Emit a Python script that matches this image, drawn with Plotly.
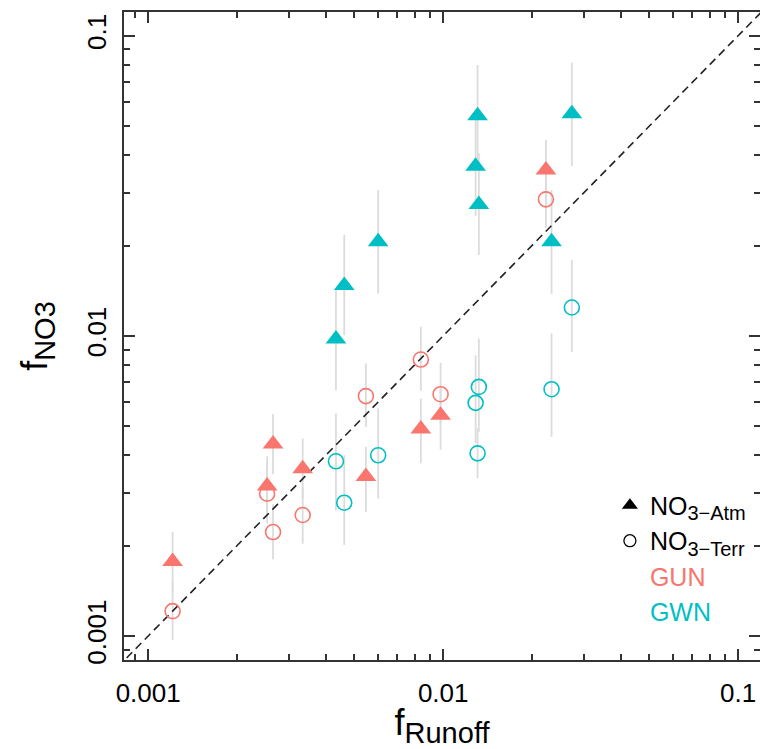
import plotly.graph_objects as go

GUN_COLOR = "#F8766D"
GWN_COLOR = "#00BFC4"
BAR_COLOR = "#DCDCDC"

# ---- data ----
gun_runoff = [0.00121, 0.00253, 0.00265, 0.00334, 0.00547, 0.0084, 0.0098, 0.0223]
gun_atm = [0.00177, 0.00316, 0.00436, 0.00361, 0.00340, 0.00489, 0.00544, 0.0357]
gun_atm_lo = [0.00140, 0.00251, 0.00346, 0.00287, 0.00259, 0.00376, 0.00418, 0.0283]
gun_atm_hi = [0.00222, 0.00397, 0.00548, 0.00455, 0.00427, 0.00618, 0.00685, 0.0449]
gun_terr = [0.00121, 0.00298, 0.00222, 0.00253, 0.00630, 0.00834, 0.00639, 0.0285]
gun_terr_lo = [0.00097, 0.00237, 0.00180, 0.00203, 0.00497, 0.00656, 0.00504, 0.0229]
gun_terr_hi = [0.00151, 0.00376, 0.00275, 0.00313, 0.00809, 0.01072, 0.00813, 0.0357]

gwn_runoff = [0.00433, 0.00462, 0.00602, 0.01308, 0.01288, 0.01321, 0.0233, 0.0273]
gwn_atm = [0.00977, 0.01471, 0.02057, 0.0541, 0.0367, 0.0274, 0.0206, 0.0550]
gwn_atm_lo = [0.00659, 0.01005, 0.01384, 0.0368, 0.0251, 0.0186, 0.0138, 0.0368]
gwn_atm_hi = [0.0142, 0.0217, 0.0306, 0.0799, 0.0540, 0.0406, 0.0306, 0.0813]
gwn_terr = [0.00382, 0.00278, 0.00400, 0.00406, 0.00598, 0.00676, 0.00664, 0.01243]
gwn_terr_lo = [0.00262, 0.00201, 0.00287, 0.00336, 0.00438, 0.00479, 0.00461, 0.00884]
gwn_terr_hi = [0.00551, 0.00400, 0.00573, 0.00492, 0.00862, 0.00980, 0.01019, 0.01788]

one_to_one = [0.0001, 1.0]

major_ticks = [0.001, 0.01, 0.1]
major_labels = ["0.001", "0.01", "0.1"]
minor_ticks = [k * 10.0 ** e for e in range(-4, 0) for k in range(2, 10)]

FONT = "Liberation Sans, Arial, sans-serif"

fig = go.Figure()

series = [
    (gun_runoff, gun_atm, gun_atm_lo, gun_atm_hi, GUN_COLOR, "triangle-up"),
    (gun_runoff, gun_terr, gun_terr_lo, gun_terr_hi, GUN_COLOR, "circle-open"),
    (gwn_runoff, gwn_atm, gwn_atm_lo, gwn_atm_hi, GWN_COLOR, "triangle-up"),
    (gwn_runoff, gwn_terr, gwn_terr_lo, gwn_terr_hi, GWN_COLOR, "circle-open"),
]

# error bars first (behind all markers)
for xs, ys, lo, hi, col, sym in series:
    fig.add_trace(go.Scatter(
        x=xs, y=ys, mode="markers",
        marker=dict(size=1, opacity=0),
        error_y=dict(type="data", symmetric=False,
                     array=[h - v for h, v in zip(hi, ys)],
                     arrayminus=[v - l for v, l in zip(ys, lo)],
                     color=BAR_COLOR, thickness=1.8, width=0),
        showlegend=False, hoverinfo="skip"))

# 1:1 line
fig.add_trace(go.Scatter(x=one_to_one, y=one_to_one, mode="lines",
                         line=dict(color="#222222", width=1.6, dash="8px,5px"),
                         showlegend=False, hoverinfo="skip"))

for xs, ys, lo, hi, col, sym in series:
    if sym == "triangle-up":
        mk = dict(symbol=sym, size=18, color=col, line=dict(width=0))
    else:
        mk = dict(symbol=sym, size=15, color=col, line=dict(width=1.6, color=col))
    fig.add_trace(go.Scatter(x=xs, y=ys, mode="markers", marker=mk, showlegend=False))

# legend entries
SUBL = "<sub><span style='font-size:20px'>%s</span></sub>"
fig.add_trace(go.Scatter(x=[None], y=[None], mode="markers",
                         name="NO" + SUBL % "3\u2212Atm",
                         marker=dict(symbol="triangle-up", size=14, color="black"),
                         legendgroup="a"))
fig.add_trace(go.Scatter(x=[None], y=[None], mode="markers",
                         name="NO" + SUBL % "3\u2212Terr",
                         marker=dict(symbol="circle-open", size=12, color="black", line=dict(width=1.3)),
                         legendgroup="a"))
fig.add_trace(go.Scatter(x=[None], y=[None], mode="markers",
                         name='<span style="color:%s">GUN</span>' % GUN_COLOR,
                         marker=dict(size=0.1, color="rgba(0,0,0,0)", line=dict(width=0)),
                         legendgroup="b"))
fig.add_trace(go.Scatter(x=[None], y=[None], mode="markers",
                         name='<span style="color:%s">GWN</span>' % GWN_COLOR,
                         marker=dict(size=0.1, color="rgba(0,0,0,0)", line=dict(width=0)),
                         legendgroup="b"))

axis_common = dict(
    type="log", showgrid=False, zeroline=False,
    showline=True, linecolor="#333333", linewidth=2, mirror="ticks",
    ticks="inside", ticklen=11, tickwidth=1.5, tickcolor="#333333",
    tickvals=major_ticks, ticktext=major_labels,
    tickfont=dict(size=26, color="black", family=FONT),
    minor=dict(tickvals=minor_ticks, ticks="inside", ticklen=6, tickwidth=1.5, tickcolor="#333333"),
    automargin=False,
)

SUBT = "<sub><span style='font-size:29px'>%s</span></sub>"

fig.update_layout(
    width=760, height=749,
    margin=dict(l=124, r=0, t=12, b=89),
    paper_bgcolor="white", plot_bgcolor="white",
    font=dict(family=FONT, color="black"),
    xaxis=dict(range=[-3.082, -0.926], ticklabelstandoff=9,
               title=dict(text="f" + SUBT % "Runoff", font=dict(size=36), standoff=4),
               **axis_common),
    yaxis=dict(range=[-3.08, -0.921], tickangle=-90, ticklabelstandoff=6,
               title=dict(text="f" + SUBT % "NO3", font=dict(size=36), standoff=23),
               **axis_common),
    legend=dict(x=0.764, y=0.274, xanchor="left", yanchor="top",
                font=dict(size=25, color="black", family=FONT),
                bgcolor="rgba(0,0,0,0)", tracegroupgap=0, traceorder="grouped",
                itemwidth=30),
    showlegend=True,
)

fig.write_html("out.html", config={"displayModeBar": False},
               post_script="document.body.style.margin='0';document.body.style.overflow='hidden';")
